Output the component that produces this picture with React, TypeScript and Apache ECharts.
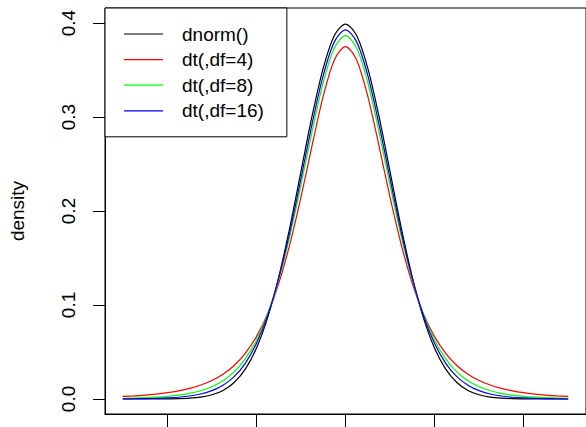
import React, { useEffect, useRef } from "react";
import * as echarts from "echarts";

const xs = [-5, -4.75, -4.5, -4.25, -4, -3.75, -3.5, -3.25, -3, -2.75, -2.5, -2.25, -2, -1.75, -1.5, -1.25, -1, -0.75, -0.5, -0.25, 0, 0.25, 0.5, 0.75, 1, 1.25, 1.5, 1.75, 2, 2.25, 2.5, 2.75, 3, 3.25, 3.5, 3.75, 4, 4.25, 4.5, 4.75, 5];

const dnorm = [0.0, 0.00001, 0.00002, 0.00005, 0.00013, 0.00035, 0.00087, 0.00203, 0.00443, 0.00909, 0.01753, 0.03174, 0.05399, 0.08628, 0.12952, 0.18265, 0.24197, 0.30114, 0.35207, 0.38667, 0.39894, 0.38667, 0.35207, 0.30114, 0.24197, 0.18265, 0.12952, 0.08628, 0.05399, 0.03174, 0.01753, 0.00909, 0.00443, 0.00203, 0.00087, 0.00035, 0.00013, 0.00005, 0.00002, 0.00001, 0.0];

const dtDf4 = [0.00265, 0.0033, 0.00414, 0.00525, 0.00671, 0.00865, 0.01128, 0.01483, 0.01969, 0.02639, 0.03567, 0.04853, 0.06629, 0.09053, 0.12288, 0.16444, 0.21466, 0.26989, 0.32226, 0.36074, 0.375, 0.36074, 0.32226, 0.26989, 0.21466, 0.16444, 0.12288, 0.09053, 0.06629, 0.04853, 0.03567, 0.02639, 0.01969, 0.01483, 0.01128, 0.00865, 0.00671, 0.00525, 0.00414, 0.0033, 0.00265];

const dtDf8 = [0.00066, 0.00093, 0.00133, 0.0019, 0.00276, 0.00403, 0.00592, 0.00876, 0.01301, 0.01936, 0.02877, 0.04258, 0.06236, 0.08994, 0.12677, 0.17327, 0.22761, 0.28483, 0.3367, 0.37339, 0.3867, 0.37339, 0.3367, 0.28483, 0.22761, 0.17327, 0.12677, 0.08994, 0.06236, 0.04258, 0.02877, 0.01936, 0.01301, 0.00876, 0.00592, 0.00403, 0.00276, 0.0019, 0.00133, 0.00093, 0.00066];

const dtDf16 = [0.00013, 0.00022, 0.00038, 0.00064, 0.00109, 0.00185, 0.00313, 0.00528, 0.00885, 0.01463, 0.02381, 0.03795, 0.05893, 0.08864, 0.12836, 0.1779, 0.23461, 0.29281, 0.34427, 0.37996, 0.39276, 0.37996, 0.34427, 0.29281, 0.23461, 0.1779, 0.12836, 0.08864, 0.05893, 0.03795, 0.02381, 0.01463, 0.00885, 0.00528, 0.00313, 0.00185, 0.00109, 0.00064, 0.00038, 0.00022, 0.00013];

const seriesNames = ["dnorm()", "dt(,df=4)", "dt(,df=8)", "dt(,df=16)"];
const seriesColors = ["#000000", "#FF0000", "#00FF00", "#0000FF"];
const xTicks = [-4, -2, 0, 2, 4];
const yTicks = [0, 0.1, 0.2, 0.3, 0.4];
const yLabel = "density";

const FONT = "'Liberation Sans', Arial, Helvetica, sans-serif";

export default function App() {
  const ref = useRef<HTMLDivElement>(null);
  useEffect(() => {
    if (!ref.current) return;
    const chart = echarts.init(ref.current, null, { renderer: "svg" });
    const allData = [dnorm, dtDf4, dtDf8, dtDf16];
    chart.setOption({
      animation: false,
      backgroundColor: "#ffffff",
      textStyle: { fontFamily: FONT },
      grid: {
        left: 105,
        top: 8,
        width: 485,
        height: 406,
        show: true,
        borderColor: "#000",
        borderWidth: 1,
        backgroundColor: "transparent",
      },
      legend: {
        orient: "vertical",
        left: 105,
        top: 8,
        padding: [16, 23, 16, 19],
        backgroundColor: "#fff",
        borderColor: "#000",
        borderWidth: 1,
        borderRadius: 0,
        icon: "rect",
        itemWidth: 39,
        itemHeight: 1.2,
        itemGap: 5.6,
        selectedMode: false,
        data: seriesNames,
        textStyle: {
          fontFamily: FONT,
          fontSize: 19,
          color: "#000",
          lineHeight: 20,
          padding: [0, 0, 0, 14],
        },
      },
      xAxis: {
        type: "value",
        position: "bottom",
        min: -5.4,
        max: 5.4,
        splitLine: { show: false },
        axisLine: { show: true, onZero: false, lineStyle: { color: "#000" } },
        axisTick: {
          show: true,
          customValues: xTicks,
          length: 14,
          lineStyle: { color: "#000" },
        },
        axisLabel: { show: false },
      },
      yAxis: {
        type: "value",
        position: "left",
        min: -0.016,
        max: 0.416,
        name: yLabel,
        nameLocation: "middle",
        nameRotate: 90,
        nameGap: 78,
        nameTextStyle: { fontFamily: FONT, fontSize: 19, color: "#000" },
        splitLine: { show: false },
        axisLine: { show: true, onZero: false, lineStyle: { color: "#000" } },
        axisTick: {
          show: true,
          customValues: yTicks,
          length: 12,
          lineStyle: { color: "#000" },
        },
        axisLabel: {
          customValues: yTicks,
          rotate: 90,
          margin: 27,
          fontFamily: FONT,
          fontSize: 19,
          color: "#000",
          formatter: (v: number) => v.toFixed(1),
        },
      },
      series: allData.map((d, i) => ({
        name: seriesNames[i],
        type: "line",
        data: xs.map((x, j) => [x, d[j]]),
        showSymbol: false,
        symbol: "none",
        smooth: 0.3,
        color: seriesColors[i],
        itemStyle: { color: seriesColors[i] },
        lineStyle: { color: seriesColors[i], width: 1.2 },
      })),
    });
    return () => chart.dispose();
  }, []);
  return (
    <div
      ref={ref}
      style={{ position: "fixed", left: 0, top: 0, width: 586, height: 427 }}
    />
  );
}
